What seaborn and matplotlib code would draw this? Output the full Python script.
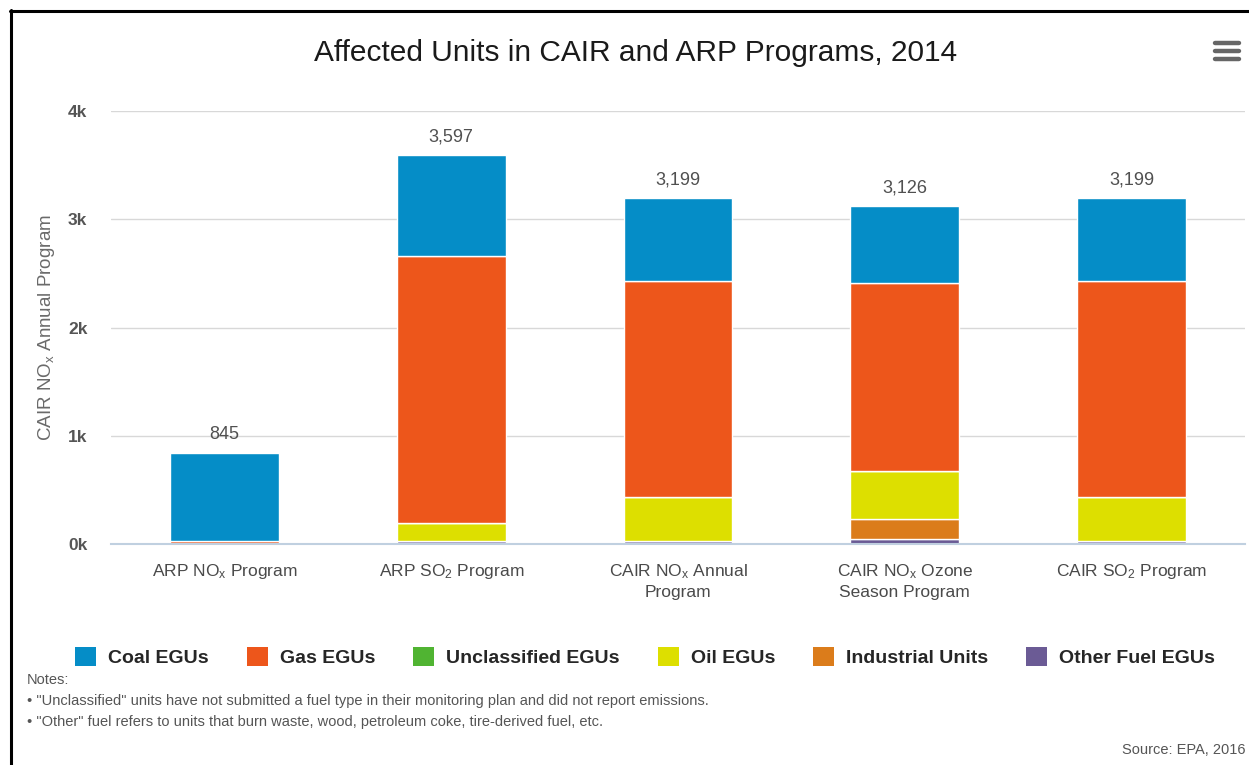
import numpy as np
import pandas as pd
import matplotlib
matplotlib.use("Agg")
import matplotlib.pyplot as plt
from matplotlib.patches import Patch
from matplotlib.lines import Line2D
import seaborn as sns

# ---- data ----
programs = [r"ARP NO$_\mathregular{x}$ Program",
            r"ARP SO$_\mathregular{2}$ Program",
            "CAIR NO$_\\mathregular{x}$ Annual\nProgram",
            "CAIR NO$_\\mathregular{x}$ Ozone\nSeason Program",
            r"CAIR SO$_\mathregular{2}$ Program"]
fuels = ["Coal EGUs", "Gas EGUs", "Unclassified EGUs", "Oil EGUs",
         "Industrial Units", "Other Fuel EGUs"]
coal = [820, 936, 769, 715, 769]
gas = [25, 2466, 1996, 1738, 1996]
unclassified = [0, 0, 0, 0, 0]
oil = [0, 170, 409, 443, 409]
industrial = [0, 0, 0, 185, 0]
other = [0, 25, 25, 45, 25]
yticks = [0, 1000, 2000, 3000, 4000]
ytick_labels = ["0k", "1k", "2k", "3k", "4k"]

colors = ["#058DC7", "#ED561B", "#50B432", "#DDDF00", "#DB7C1B", "#6B5B95"]

series = [coal, gas, unclassified, oil, industrial, other]
rows = []
for f, vals in zip(fuels, series):
    for i, v in enumerate(vals):
        rows.append({"x": i, "fuel": f, "count": v})
df = pd.DataFrame(rows)
totals = [sum(s[i] for s in series) for i in range(len(programs))]

sns.set_theme(style="white")
plt.rcParams["font.family"] = ["Liberation Sans", "DejaVu Sans"]
plt.rcParams["mathtext.fontset"] = "custom"
plt.rcParams["mathtext.rm"] = "Liberation Sans"
plt.rcParams["mathtext.it"] = "Liberation Sans:italic"
plt.rcParams["mathtext.bf"] = "Liberation Sans:bold"

W, H = 1249, 765
fig = plt.figure(figsize=(W / 100, H / 100), dpi=100)
ax = fig.add_axes([111 / W, 1 - 544 / H, (1245 - 111) / W, (544 - 111) / H])

sns.histplot(data=df, x="x", weights="count", hue="fuel", hue_order=fuels,
             palette=colors, multiple="stack", discrete=True, shrink=0.48,
             edgecolor="white", linewidth=1, alpha=1, legend=False, ax=ax)

ax.set_xlim(-0.5, len(programs) - 0.5)
ax.set_ylim(0, 4000)
ax.set_yticks(yticks)
ax.set_yticklabels(ytick_labels)
ax.set_xticks(range(len(programs)))
ax.set_xticklabels(programs, linespacing=1.35)
ax.set_xticks(np.arange(-0.5, len(programs), 1.0), minor=True)
ax.tick_params(axis="x", which="major", length=0, pad=13, labelsize=12.5,
               labelcolor="#4a4a4a")
ax.tick_params(axis="x", which="minor", length=7, width=1, color="#C0D0E0")
ax.tick_params(axis="y", length=0, pad=17, labelsize=12.5, labelcolor="#555555")
for lab in ax.get_yticklabels():
    lab.set_fontweight("bold")
ax.set_xlabel("")
ax.set_ylabel(r"CAIR NO$_\mathregular{x}$ Annual Program", fontsize=13.5,
              color="#6a6a6a", labelpad=8)
ax.yaxis.grid(True, color="#D8D8D8", linewidth=1)
ax.set_axisbelow(True)
for s in ["top", "right", "left"]:
    ax.spines[s].set_visible(False)
ax.spines["bottom"].set_color("#C0D0E0")
ax.spines["bottom"].set_linewidth(1.5)

for i, t in enumerate(totals):
    ax.annotate(f"{t:,}", (i, t), xytext=(0, 13), textcoords="offset points",
                ha="center", va="center", fontsize=13, color="#505050")

# title
fig.text(636 / W, 1 - 53 / H, "Affected Units in CAIR and ARP Programs, 2014",
         ha="center", va="center", fontsize=21.5, color="#1a1a1a")

# legend
handles = [Patch(facecolor=c, edgecolor="none") for c in colors]
fig.legend(handles, fuels, loc="center", bbox_to_anchor=(645 / W, 1 - 657 / H),
           ncol=6, frameon=False, prop={"size": 14, "weight": "bold"},
           handlelength=1.1, handleheight=1.1, handletextpad=0.6,
           columnspacing=1.95)

# notes
note_kw = dict(fontsize=10.5, color="#555555", va="center")
fig.text(27 / W, 1 - 680 / H, "Notes:", **note_kw)
fig.text(27 / W, 1 - 701 / H,
         "\u2022 \"Unclassified\" units have not submitted a fuel type in their monitoring plan and did not report emissions.",
         **note_kw)
fig.text(27 / W, 1 - 722 / H,
         "\u2022 \"Other\" fuel refers to units that burn waste, wood, petroleum coke, tire-derived fuel, etc.",
         **note_kw)
fig.text(1245 / W, 1 - 750 / H, "Source: EPA, 2016", fontsize=10.5,
         color="#555555", ha="right", va="center")

# frame lines
fig.add_artist(Line2D([11 / W, 11 / W], [1 - 10 / H, 0], color="black",
                      linewidth=2.2, transform=fig.transFigure))
fig.add_artist(Line2D([10 / W, 1], [1 - 11 / H, 1 - 11 / H], color="black",
                      linewidth=2.2, transform=fig.transFigure))

# menu icon
for yy in [43, 51, 59]:
    fig.add_artist(Line2D([1215 / W, 1239 / W], [1 - yy / H, 1 - yy / H],
                          color="#666666", linewidth=3.2,
                          solid_capstyle="round", transform=fig.transFigure))

fig.savefig("out.png", dpi=100)
